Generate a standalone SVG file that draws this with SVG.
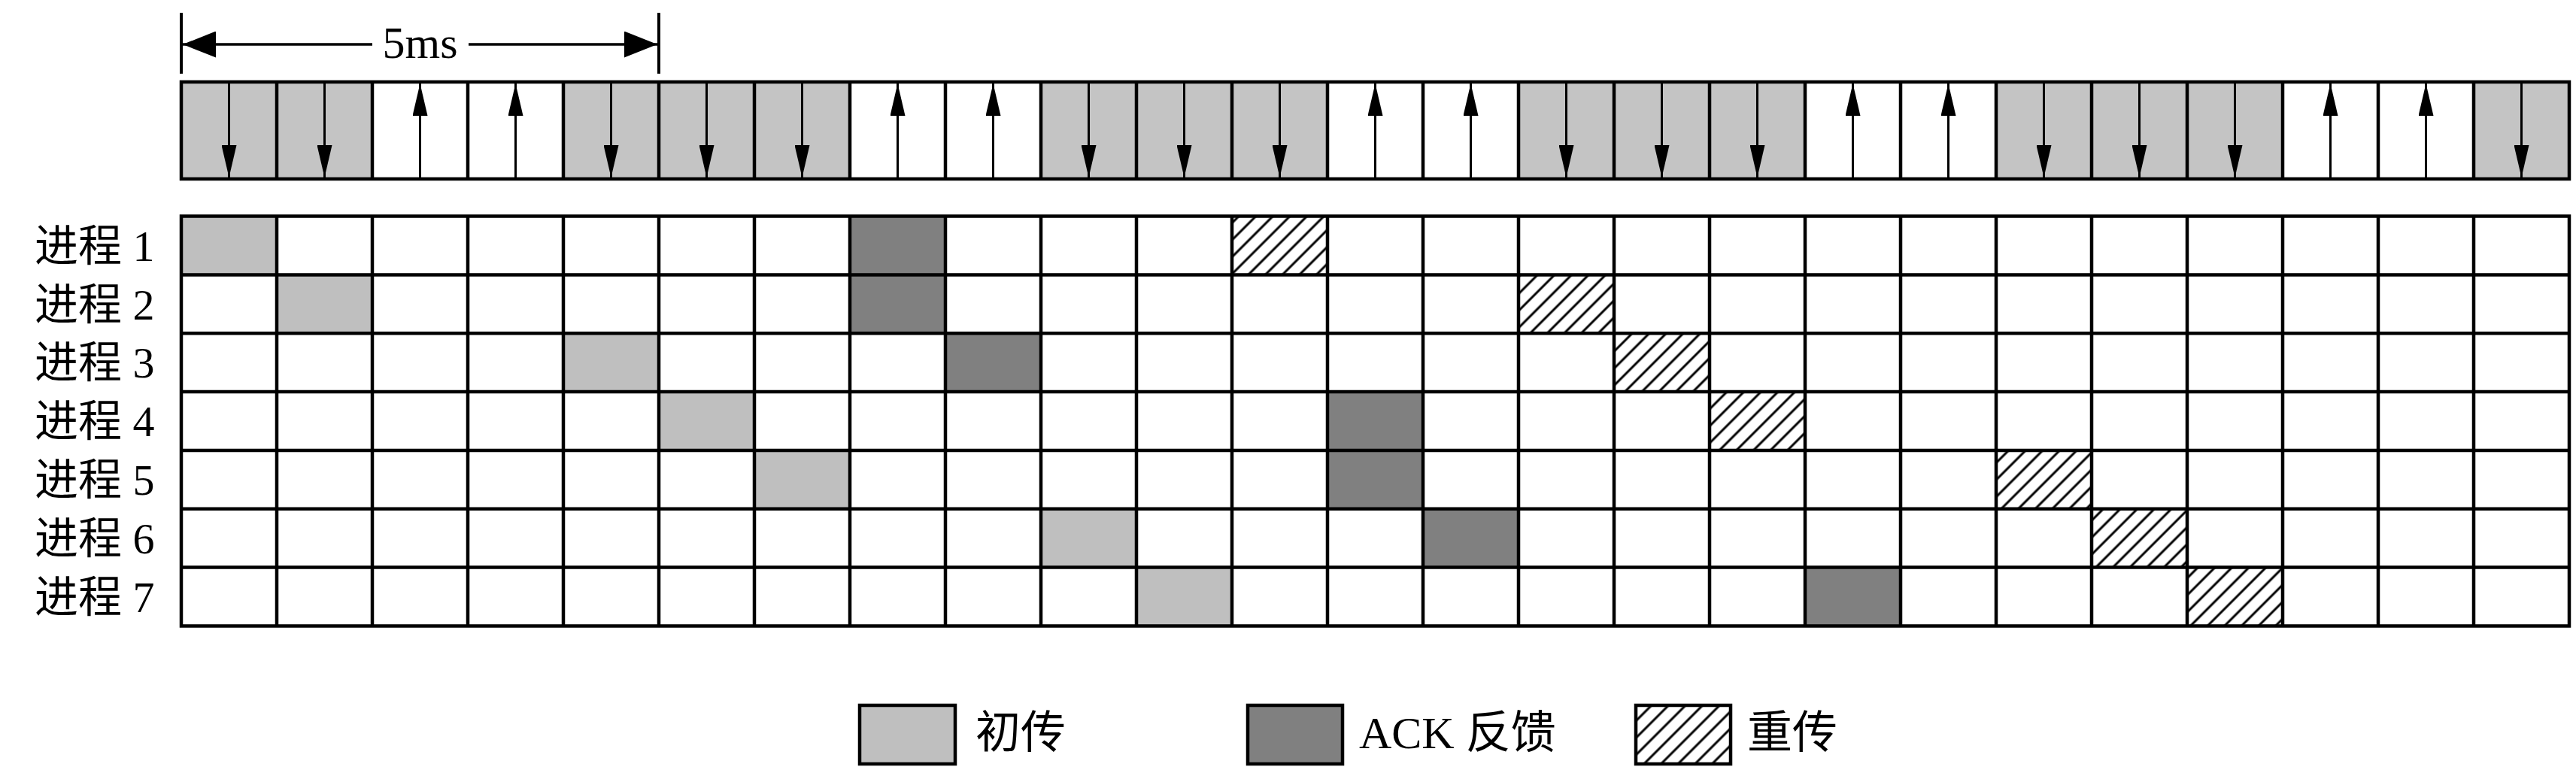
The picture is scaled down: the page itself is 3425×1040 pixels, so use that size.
<svg xmlns="http://www.w3.org/2000/svg" width="3425" height="1040" viewBox="0 0 3425 1040">
<style>
.bg{fill:#ffffff}
.dl{fill:#c4c4c4}
.init{fill:#bfbfbf}
.ack{fill:#808080}
.retx{fill:url(#hatch)}
.grid{fill:none;stroke:#000;stroke-width:4.5}
.sub{stroke:#000;stroke-width:3;fill:none}
.dim{stroke:#000;stroke-width:3.5;fill:none}
.tick{stroke:#000;stroke-width:4;fill:none}
.lbl{font-family:"Liberation Serif","Noto Sans CJK SC",serif;font-size:58px;fill:#000}
.leg{font-family:"Liberation Serif","Noto Sans CJK SC",serif;font-size:60px;fill:#000}
.box{stroke:#000;stroke-width:4.5}
</style>
<defs>
<pattern id="hatch" patternUnits="userSpaceOnUse" width="16" height="16" patternTransform="rotate(45)">
<rect width="16" height="16" fill="#fff"/>
<line x1="8" y1="-1" x2="8" y2="17" stroke="#000" stroke-width="3"/>
</pattern>
<marker id="ah" viewBox="0 0 43 20" refX="43" refY="10" markerWidth="43" markerHeight="20" markerUnits="userSpaceOnUse" orient="auto">
<path d="M0,0 L43,10 L0,20 Z" fill="#000"/>
</marker>
<marker id="dh" viewBox="0 0 44 35" refX="44" refY="17.5" markerWidth="44" markerHeight="35" markerUnits="userSpaceOnUse" orient="auto">
<path d="M0,0 L44,17.5 L0,35 Z" fill="#000"/>
</marker>
</defs>
<rect class="bg" x="0" y="0" width="3425" height="1040"/>

<g id="subframes">
<g class="dl">
<rect x="241" y="109" width="127" height="129"/>
<rect x="368" y="109" width="127" height="129"/>
<rect x="749" y="109" width="127" height="129"/>
<rect x="876" y="109" width="127" height="129"/>
<rect x="1003" y="109" width="127" height="129"/>
<rect x="1384" y="109" width="127" height="129"/>
<rect x="1511" y="109" width="127" height="129"/>
<rect x="1638" y="109" width="127" height="129"/>
<rect x="2019" y="109" width="127" height="129"/>
<rect x="2146" y="109" width="127" height="129"/>
<rect x="2273" y="109" width="127" height="129"/>
<rect x="2654" y="109" width="127" height="129"/>
<rect x="2781" y="109" width="127" height="129"/>
<rect x="2908" y="109" width="127" height="129"/>
<rect x="3289" y="109" width="127" height="129"/>
</g>
<path class="grid" d="M241,109 H3416 V238 H241 Z M368,109 V238 M495,109 V238 M622,109 V238 M749,109 V238 M876,109 V238 M1003,109 V238 M1130,109 V238 M1257,109 V238 M1384,109 V238 M1511,109 V238 M1638,109 V238 M1765,109 V238 M1892,109 V238 M2019,109 V238 M2146,109 V238 M2273,109 V238 M2400,109 V238 M2527,109 V238 M2654,109 V238 M2781,109 V238 M2908,109 V238 M3035,109 V238 M3162,109 V238 M3289,109 V238"/>
</g>

<g id="connectors">
<g id="dimension">
<line class="tick" x1="241" y1="17" x2="241" y2="98"/>
<line class="tick" x1="876" y1="17" x2="876" y2="98"/>
<line class="dim" x1="495" y1="59" x2="243" y2="59" marker-end="url(#dh)"/>
<line class="dim" x1="623" y1="59" x2="874" y2="59" marker-end="url(#dh)"/>
</g>
<g id="subframe-arrows" class="sub">
<line x1="304.5" y1="110" x2="304.5" y2="236" marker-end="url(#ah)"/>
<line x1="431.5" y1="110" x2="431.5" y2="236" marker-end="url(#ah)"/>
<line x1="558.5" y1="237" x2="558.5" y2="111" marker-end="url(#ah)"/>
<line x1="685.5" y1="237" x2="685.5" y2="111" marker-end="url(#ah)"/>
<line x1="812.5" y1="110" x2="812.5" y2="236" marker-end="url(#ah)"/>
<line x1="939.5" y1="110" x2="939.5" y2="236" marker-end="url(#ah)"/>
<line x1="1066.5" y1="110" x2="1066.5" y2="236" marker-end="url(#ah)"/>
<line x1="1193.5" y1="237" x2="1193.5" y2="111" marker-end="url(#ah)"/>
<line x1="1320.5" y1="237" x2="1320.5" y2="111" marker-end="url(#ah)"/>
<line x1="1447.5" y1="110" x2="1447.5" y2="236" marker-end="url(#ah)"/>
<line x1="1574.5" y1="110" x2="1574.5" y2="236" marker-end="url(#ah)"/>
<line x1="1701.5" y1="110" x2="1701.5" y2="236" marker-end="url(#ah)"/>
<line x1="1828.5" y1="237" x2="1828.5" y2="111" marker-end="url(#ah)"/>
<line x1="1955.5" y1="237" x2="1955.5" y2="111" marker-end="url(#ah)"/>
<line x1="2082.5" y1="110" x2="2082.5" y2="236" marker-end="url(#ah)"/>
<line x1="2209.5" y1="110" x2="2209.5" y2="236" marker-end="url(#ah)"/>
<line x1="2336.5" y1="110" x2="2336.5" y2="236" marker-end="url(#ah)"/>
<line x1="2463.5" y1="237" x2="2463.5" y2="111" marker-end="url(#ah)"/>
<line x1="2590.5" y1="237" x2="2590.5" y2="111" marker-end="url(#ah)"/>
<line x1="2717.5" y1="110" x2="2717.5" y2="236" marker-end="url(#ah)"/>
<line x1="2844.5" y1="110" x2="2844.5" y2="236" marker-end="url(#ah)"/>
<line x1="2971.5" y1="110" x2="2971.5" y2="236" marker-end="url(#ah)"/>
<line x1="3098.5" y1="237" x2="3098.5" y2="111" marker-end="url(#ah)"/>
<line x1="3225.5" y1="237" x2="3225.5" y2="111" marker-end="url(#ah)"/>
<line x1="3352.5" y1="110" x2="3352.5" y2="236" marker-end="url(#ah)"/>
</g>
</g>
<text class="leg" x="558.5" y="77" text-anchor="middle">5ms</text>

<g id="process-grid">
<g id="process-1">
<rect class="init" x="241" y="287.5" width="127" height="77.9"/>
<rect class="ack" x="1130" y="287.5" width="127" height="77.9"/>
<rect class="retx" x="1638" y="287.5" width="127" height="77.9"/>
<text class="lbl" x="46" y="347">进程 1</text>
</g>
<g id="process-2">
<rect class="init" x="368" y="365.4" width="127" height="77.9"/>
<rect class="ack" x="1130" y="365.4" width="127" height="77.9"/>
<rect class="retx" x="2019" y="365.4" width="127" height="77.9"/>
<text class="lbl" x="46" y="425">进程 2</text>
</g>
<g id="process-3">
<rect class="init" x="749" y="443.2" width="127" height="77.9"/>
<rect class="ack" x="1257" y="443.2" width="127" height="77.9"/>
<rect class="retx" x="2146" y="443.2" width="127" height="77.9"/>
<text class="lbl" x="46" y="502">进程 3</text>
</g>
<g id="process-4">
<rect class="init" x="876" y="521.1" width="127" height="77.9"/>
<rect class="ack" x="1765" y="521.1" width="127" height="77.9"/>
<rect class="retx" x="2273" y="521.1" width="127" height="77.9"/>
<text class="lbl" x="46" y="580">进程 4</text>
</g>
<g id="process-5">
<rect class="init" x="1003" y="598.9" width="127" height="77.9"/>
<rect class="ack" x="1765" y="598.9" width="127" height="77.9"/>
<rect class="retx" x="2654" y="598.9" width="127" height="77.9"/>
<text class="lbl" x="46" y="658">进程 5</text>
</g>
<g id="process-6">
<rect class="init" x="1384" y="676.8" width="127" height="77.9"/>
<rect class="ack" x="1892" y="676.8" width="127" height="77.9"/>
<rect class="retx" x="2781" y="676.8" width="127" height="77.9"/>
<text class="lbl" x="46" y="736">进程 6</text>
</g>
<g id="process-7">
<rect class="init" x="1511" y="754.6" width="127" height="77.9"/>
<rect class="ack" x="2400" y="754.6" width="127" height="77.9"/>
<rect class="retx" x="2908" y="754.6" width="127" height="77.9"/>
<text class="lbl" x="46" y="814">进程 7</text>
</g>
<path class="grid" d="M241,287.5 H3416 V832.5 H241 Z M241,365.4 H3416 M241,443.2 H3416 M241,521.1 H3416 M241,598.9 H3416 M241,676.8 H3416 M241,754.6 H3416 M368,287.5 V832.5 M495,287.5 V832.5 M622,287.5 V832.5 M749,287.5 V832.5 M876,287.5 V832.5 M1003,287.5 V832.5 M1130,287.5 V832.5 M1257,287.5 V832.5 M1384,287.5 V832.5 M1511,287.5 V832.5 M1638,287.5 V832.5 M1765,287.5 V832.5 M1892,287.5 V832.5 M2019,287.5 V832.5 M2146,287.5 V832.5 M2273,287.5 V832.5 M2400,287.5 V832.5 M2527,287.5 V832.5 M2654,287.5 V832.5 M2781,287.5 V832.5 M2908,287.5 V832.5 M3035,287.5 V832.5 M3162,287.5 V832.5 M3289,287.5 V832.5"/>
</g>

<g id="legend">
<g id="legend-initial">
<rect class="init box" x="1143" y="938" width="127" height="78"/>
<text class="leg" x="1297" y="995">初传</text>
</g>
<g id="legend-ack">
<rect class="ack box" x="1659" y="938" width="126" height="78"/>
<text class="leg" x="1807" y="995">ACK 反馈</text>
</g>
<g id="legend-retx">
<rect class="retx box" x="2175" y="938" width="126" height="78"/>
<text class="leg" x="2323" y="995">重传</text>
</g>
</g>
</svg>
